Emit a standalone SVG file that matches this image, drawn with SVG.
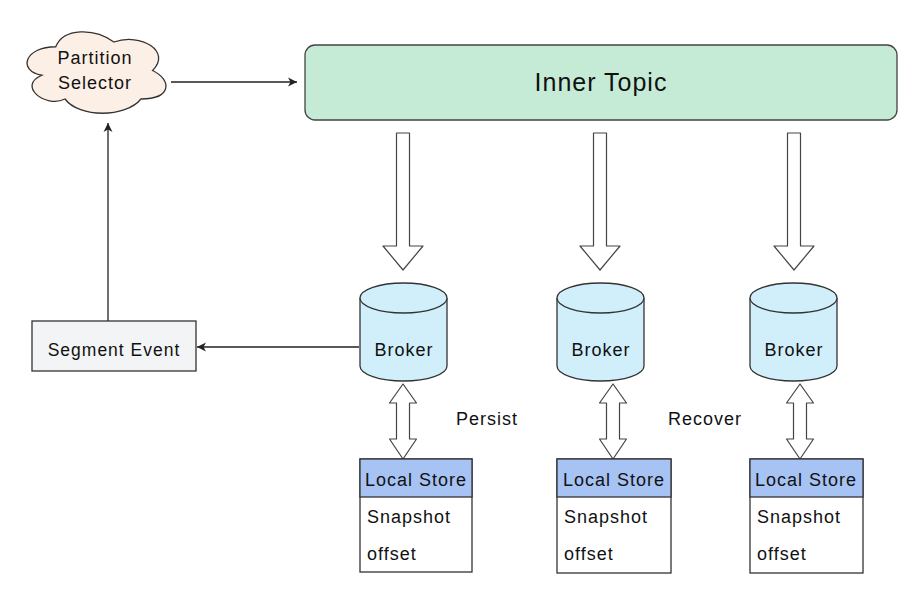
<svg xmlns="http://www.w3.org/2000/svg" width="917" height="592" viewBox="0 0 917 592">
<style>
text{font-family:"Liberation Sans",Arial,sans-serif;fill:#111;letter-spacing:1px}
.ln{stroke:#222;stroke-width:1.3;fill:none}
.hollow{fill:#fff;stroke:#444;stroke-width:1.2;stroke-linejoin:round}
.cyl{fill:#d0effb;stroke:#333;stroke-width:1.3}
.box{fill:#fff;stroke:#333;stroke-width:1.3}
.hdr{fill:#a6c3f4;stroke:#333;stroke-width:1.3}
.t18{font-size:18px}
</style>
<defs>
<marker id="ah" markerWidth="10" markerHeight="10" refX="9" refY="5" orient="auto" markerUnits="userSpaceOnUse">
<path d="M0,0.5 L9,5 L0,9.5 L2.5,5 Z" fill="#222"/>
</marker>
<path id="down" d="M-6.5,0 H6.5 V113 H20 L0,137 L-20,113 H-6.5 Z"/>
<path id="dbl" d="M0,0 L13.5,19 H6.5 V55 H13.5 L0,75 L-13.5,55 H-6.5 V19 H-13.5 Z"/>
</defs>

<g id="connectors">
<line class="ln" x1="171" y1="82" x2="297" y2="82" marker-end="url(#ah)"/>
<line class="ln" x1="108" y1="321" x2="108" y2="123" marker-end="url(#ah)"/>
<line class="ln" x1="359" y1="347" x2="197" y2="347" marker-end="url(#ah)"/>
<use href="#down" class="hollow" x="403" y="133"/>
<use href="#down" class="hollow" x="600" y="133"/>
<use href="#down" class="hollow" x="794" y="133"/>
<use href="#dbl" class="hollow" x="403" y="384"/>
<use href="#dbl" class="hollow" x="613" y="384"/>
<use href="#dbl" class="hollow" x="800" y="384"/>
</g>

<g id="partition-selector">
<path d="M55.75,46.75 C24.75,46.75 17,70.5 41.8,75.25 C17,85.7 44.9,108.5 65.05,99 C79,118 125.5,118 141,99 C172,99 172,80 152.6,70.5 C172,51.5 141,32.5 113.9,42 C94.5,27.75 63.5,27.75 55.75,46.75 Z" fill="#fcefe5" stroke="#333" stroke-width="1.3"/>
<text class="t18" x="95" y="64" text-anchor="middle">Partition</text>
<text class="t18" x="95" y="89" text-anchor="middle">Selector</text>
</g>

<g id="inner-topic">
<rect x="305" y="45" width="592" height="75" rx="10" fill="#c5ebd6" stroke="#444" stroke-width="1.3"/>
<text x="601" y="91" font-size="25" text-anchor="middle">Inner Topic</text>
</g>

<g id="segment-event">
<rect x="32" y="321" width="164" height="50" fill="#f3f4f6" stroke="#333" stroke-width="1.3"/>
<text x="114" y="356" font-size="17.5" text-anchor="middle">Segment Event</text>
</g>

<g id="broker-1">
<path class="cyl" d="M360,298 V366 A43.5,15 0 0 0 447,366 V298 A43.5,15 0 0 0 360,298 Z"/>
<path class="cyl" d="M360,298 A43.5,15 0 0 0 447,298" fill="none"/>
<text class="t18" x="404" y="356" text-anchor="middle">Broker</text>
</g>
<g id="broker-2">
<path class="cyl" d="M557,298 V366 A43.5,15 0 0 0 644,366 V298 A43.5,15 0 0 0 557,298 Z"/>
<path class="cyl" d="M557,298 A43.5,15 0 0 0 644,298" fill="none"/>
<text class="t18" x="601" y="356" text-anchor="middle">Broker</text>
</g>
<g id="broker-3">
<path class="cyl" d="M750,298 V366 A43.5,15 0 0 0 837,366 V298 A43.5,15 0 0 0 750,298 Z"/>
<path class="cyl" d="M750,298 A43.5,15 0 0 0 837,298" fill="none"/>
<text class="t18" x="794" y="356" text-anchor="middle">Broker</text>
</g>

<g id="local-store-1">
<rect class="box" x="360" y="459" width="112" height="113"/>
<rect class="hdr" x="360" y="459" width="112" height="38"/>
<text class="t18" x="416" y="486" text-anchor="middle">Local Store</text>
<text class="t18" x="367" y="523">Snapshot</text>
<text class="t18" x="367" y="560">offset</text>
</g>
<g id="local-store-2">
<rect class="box" x="557" y="459" width="114" height="114"/>
<rect class="hdr" x="557" y="459" width="114" height="38"/>
<text class="t18" x="614" y="486" text-anchor="middle">Local Store</text>
<text class="t18" x="564" y="523">Snapshot</text>
<text class="t18" x="564" y="560">offset</text>
</g>
<g id="local-store-3">
<rect class="box" x="750" y="459" width="113" height="114"/>
<rect class="hdr" x="750" y="459" width="113" height="38"/>
<text class="t18" x="806" y="486" text-anchor="middle">Local Store</text>
<text class="t18" x="757" y="523">Snapshot</text>
<text class="t18" x="757" y="560">offset</text>
</g>

<g id="labels">
<text class="t18" x="456" y="425">Persist</text>
<text class="t18" x="668" y="425">Recover</text>
</g>
</svg>
